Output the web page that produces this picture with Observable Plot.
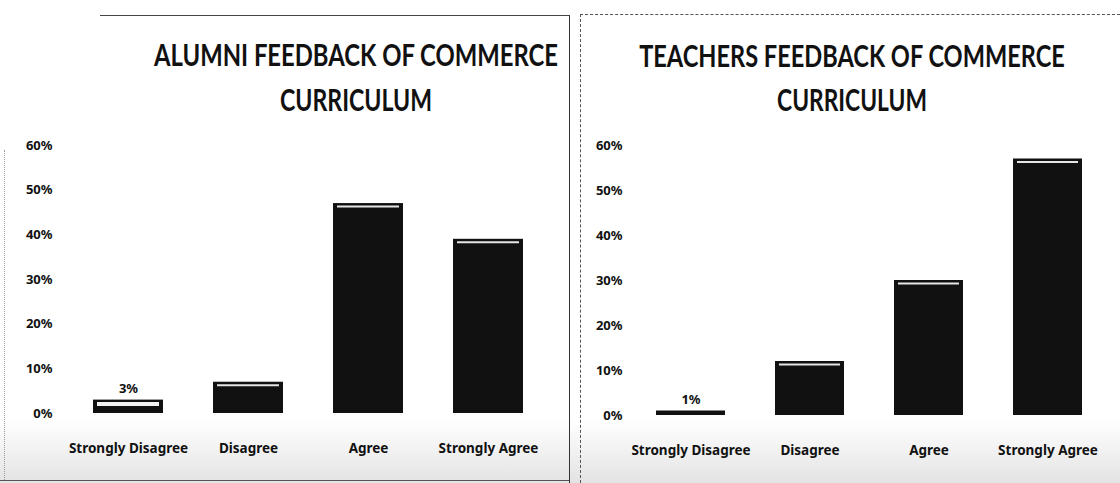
<!DOCTYPE html>
<html>
<head>
<meta charset="utf-8">
<script src="https://cdn.jsdelivr.net/npm/d3@7"></script>
<script src="https://cdn.jsdelivr.net/npm/@observablehq/plot@0.6"></script>
<style>
  html, body { margin: 0; padding: 0; background: #fff; }
  body { width: 1120px; height: 483px; overflow: hidden; position: relative; font-family: Lato, "Open Sans", sans-serif; }
  .shade { position: absolute; left: 0; right: 0; top: 420px; bottom: 0;
           background: linear-gradient(to bottom, rgba(230,230,230,0), rgba(215,215,215,0.7)); }
  .panel { position: absolute; top: 0; height: 483px; }
  .chart { position: absolute; left: 0; top: 125px; }
  .titles { position: absolute; left: 0; top: 0; }
  .line { position: absolute; }
  .chart svg text, .titles text { font-family: Lato, "Open Sans", sans-serif; }
</style>
</head>
<body>
<div class="shade"></div>
<script>
const categories = ["Strongly Disagree", "Disagree", "Agree", "Strongly Agree"];
const alumniValues = [0.03, 0.07, 0.47, 0.39];
const teachersValues = [0.01, 0.12, 0.30, 0.57];
const alumniLabels = ["3%", "", "", ""];
const teachersLabels = ["1%", "", "", ""];
const yTicks = [0, 0.1, 0.2, 0.3, 0.4, 0.5, 0.6];
const alumniTitle = ["ALUMNI FEEDBACK OF  COMMERCE", "CURRICULUM"];
const teachersTitle = ["TEACHERS FEEDBACK OF  COMMERCE", "CURRICULUM"];

const ns = "http://www.w3.org/2000/svg";
const titleSvg = document.createElementNS(ns, "svg");
titleSvg.setAttribute("class", "titles");
titleSvg.setAttribute("width", 1120);
titleSvg.setAttribute("height", 125);
document.body.appendChild(titleSvg);

function makePanel(opts) {
  const panel = document.createElement("div");
  panel.className = "panel";
  panel.style.left = opts.left + "px";
  panel.style.width = opts.width + "px";

  const data = categories.map((c, i) => ({ category: c, value: opts.values[i], label: opts.labels[i] }));

  const chart = Plot.plot({
    width: opts.width,
    height: 358,
    marginTop: opts.marginTop,
    marginBottom: opts.marginBottom,
    marginLeft: opts.marginLeft,
    marginRight: opts.marginRight,
    style: { background: "transparent", color: "#111", fontWeight: "bold" },
    x: { domain: categories, paddingInner: 0.42, paddingOuter: 0.2, label: null },
    y: { domain: [0, 0.6], label: null },
    marks: [
      Plot.barY(data, { x: "category", y: "value", fill: "#111" }),
      Plot.tickY(data.filter(d => d.value >= 0.05), { x: "category", y: "value", stroke: "#e6e6e6", strokeWidth: 2, dy: 3, inset: 4 }),
      Plot.tickY(data.filter(d => d.value >= 0.02 && d.value < 0.05), { x: "category", y: "value", stroke: "#f2f2f2", strokeWidth: 4, dy: 4, inset: 4 }),
      Plot.text(data.filter(d => d.label), { x: "category", y: "value", text: "label", dy: -11, fontSize: 13, fill: "#111" }),
      Plot.axisY(yTicks, { tickFormat: d => Math.round(d * 100) + "%", tickSize: 0, tickPadding: opts.yPad, fontSize: 13, fontWeight: "bold" }),
      Plot.axisX({ tickSize: 0, tickPadding: 30, fontSize: 13.5, fontWeight: "bold" })
    ]
  });
  chart.classList.add("chart");
  panel.appendChild(chart);
  document.body.appendChild(panel);

  opts.title.forEach((t, i) => {
    const tx = document.createElementNS(ns, "text");
    tx.setAttribute("x", 0);
    tx.setAttribute("y", 0);
    tx.setAttribute("text-anchor", "middle");
    tx.setAttribute("font-size", 30);
    tx.setAttribute("font-weight", "bold");
    tx.setAttribute("fill", "#111");
    tx.setAttribute("xml:space", "preserve");
    tx.textContent = t;
    titleSvg.appendChild(tx);
    const natural = tx.getComputedTextLength() || opts.titleLen[i];
    const k = opts.titleLen[i] / natural;
    tx.setAttribute("transform", `translate(${opts.left + opts.titleX},${opts.titleY[i]}) scale(${k},1)`);
  });
}

makePanel({ left: 0, width: 568, values: alumniValues, labels: alumniLabels, title: alumniTitle,
  titleX: 356, titleY: [66, 111], titleLen: [404, 152],
  marginTop: 20, marginBottom: 70, marginLeft: 68, marginRight: 20, yPad: 16 });
makePanel({ left: 568, width: 552, values: teachersValues, labels: teachersLabels, title: teachersTitle,
  titleX: 284, titleY: [67, 111], titleLen: [426, 150],
  marginTop: 20, marginBottom: 68, marginLeft: 63, marginRight: 13, yPad: 9 });
document.body.appendChild(titleSvg);

function line(css) {
  const d = document.createElement("div");
  d.className = "line";
  Object.assign(d.style, css);
  document.body.appendChild(d);
}
line({ left: "100px", top: "15px", width: "469px", borderTop: "1.5px solid #444" });
line({ left: "569px", top: "15px", height: "468px", borderLeft: "1.5px solid #333" });
line({ left: "580px", top: "14px", width: "540px", borderTop: "1.5px dashed #555" });
line({ left: "580px", top: "14px", height: "469px", borderLeft: "1.5px dashed #555" });
line({ left: "4px", top: "150px", height: "330px", borderLeft: "1px dotted #999" });
line({ left: "0px", top: "480px", width: "569px", borderTop: "1.5px solid #555" });
</script>
</body>
</html>
